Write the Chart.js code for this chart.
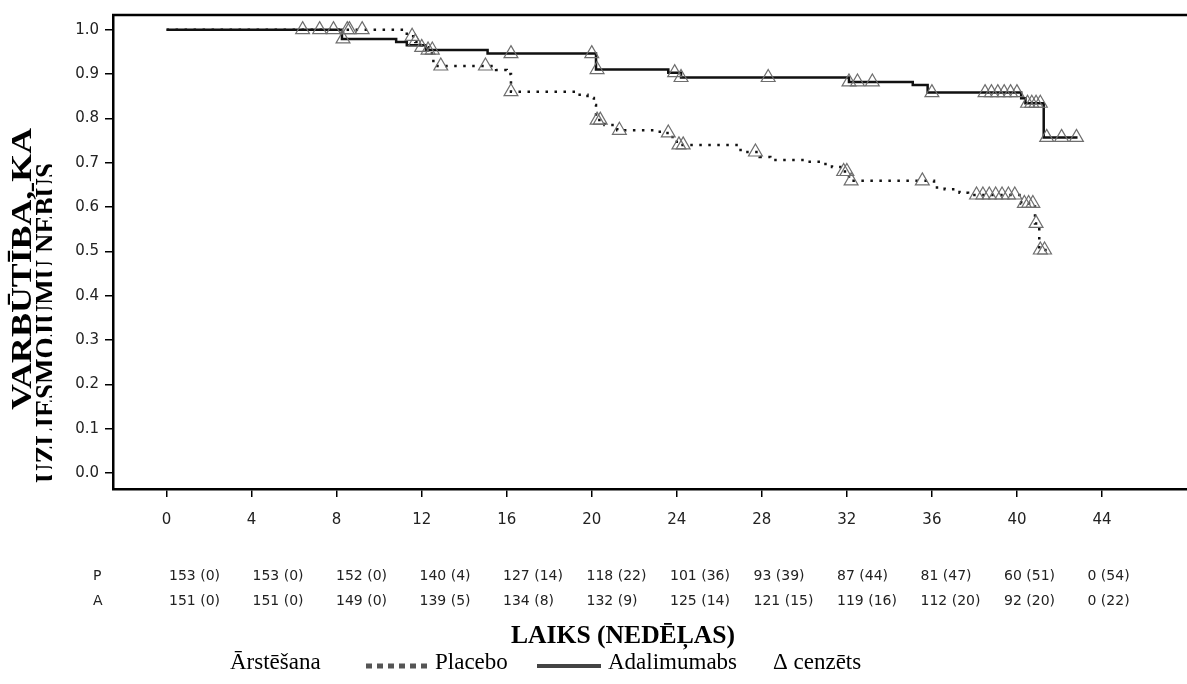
<!DOCTYPE html>
<html>
<head>
<meta charset="utf-8">
<script src="https://cdn.jsdelivr.net/npm/chart.js@4.4.0/dist/chart.umd.min.js"></script>
<style>
  html, body { margin: 0; padding: 0; background: #fff; }
</style>
</head>
<body>
<canvas id="km" width="1187" height="684"></canvas>
<script>
// Kaplan-Meier steps (weeks, survival from that week on)
const placeboTimes = [0, 11.3, 11.7, 12.0, 12.3, 12.55, 15.5, 16.0, 16.2, 19.3, 19.8, 20.1, 20.2, 20.6, 21.2, 23.2, 23.8, 24.0, 27.0, 27.9, 28.4, 30.0, 30.8, 31.3, 31.8, 32.1, 36.1, 36.6, 37.3, 37.7, 40.2, 40.85, 41.05];
const placeboSurv  = [1.0, 0.985, 0.972, 0.96, 0.946, 0.918, 0.909, 0.90, 0.86, 0.853, 0.846, 0.83, 0.796, 0.785, 0.773, 0.767, 0.755, 0.740, 0.724, 0.713, 0.706, 0.702, 0.697, 0.69, 0.68, 0.659, 0.644, 0.64, 0.632, 0.627, 0.608, 0.563, 0.503];
const placeboEnd = 41.4;

const adaTimes = [0, 8.25, 10.8, 11.3, 12.2, 15.1, 20.2, 23.6, 24.2, 32.1, 35.1, 35.8, 40.2, 40.4, 41.26];
const adaSurv  = [1.0, 0.979, 0.972, 0.965, 0.954, 0.946, 0.910, 0.903, 0.892, 0.882, 0.875, 0.858, 0.845, 0.834, 0.757];
const adaEnd = 42.85;

// censored times
const placeboCensor = [7.2, 8.5, 8.6, 9.2, 11.55, 11.7, 12.0, 12.9, 15.0, 16.2, 20.25, 20.4, 21.3, 23.6, 24.1, 24.3, 27.7, 31.85, 32.0, 32.2, 35.55, 38.1, 38.4, 38.7, 39.0, 39.3, 39.6, 39.9, 40.35, 40.55, 40.75, 40.9, 41.1, 41.3];
const adaCensor = [6.4, 7.85, 8.3, 12.3, 12.5, 16.2, 20.0, 20.25, 23.9, 24.2, 28.3, 32.1, 32.5, 33.2, 36.0, 38.5, 38.8, 39.1, 39.4, 39.7, 40.0, 40.5, 40.7, 40.9, 41.1, 41.4, 42.1, 42.8];

const xTicks = [0, 4, 8, 12, 16, 20, 24, 28, 32, 36, 40, 44];
const yTicks = [0, 0.1, 0.2, 0.3, 0.4, 0.5, 0.6, 0.7, 0.8, 0.9, 1.0];

// numbers at risk (events)
const riskPlacebo = ['153 (0)', '153 (0)', '152 (0)', '140 (4)', '127 (14)', '118 (22)', '101 (36)', '93 (39)', '87 (44)', '81 (47)', '60 (51)', '0 (54)'];
const riskAda = ['151 (0)', '151 (0)', '149 (0)', '139 (5)', '134 (8)', '132 (9)', '125 (14)', '121 (15)', '119 (16)', '112 (20)', '92 (20)', '0 (22)'];

function survAt(times, surv, t) {
    let v = surv[0];
    for (let i = 0; i < times.length; i++) {
        if (times[i] <= t) v = surv[i];
    }
    return v;
}
function kmPoints(times, surv, end) {
    let pts = times.map((t, i) => ({ x: t, y: surv[i] }));
    pts.push({ x: end, y: surv[surv.length - 1] });
    return pts;
}
function censorPoints(cens, times, surv) {
    return cens.map(t => ({ x: t, y: survAt(times, surv, t) }));
}

const serif = '"Liberation Serif", "Times New Roman", serif';

// text squeezed/stretched to a target width
function fitText(c, text, x, y, font, width, rot) {
    c.save();
    c.font = font;
    let w = c.measureText(text).width;
    c.translate(x, y);
    if (rot) c.rotate(rot);
    c.scale(width / w, 1);
    c.textAlign = 'center';
    c.textBaseline = 'middle';
    c.fillText(text, 0, 0);
    c.restore();
}

const decor = {
    id: 'decor',
    afterDraw(chart) {
        const c = chart.ctx, a = chart.chartArea;
        c.save();
        // top frame line
        c.strokeStyle = '#000';
        c.lineWidth = 2.5;
        c.beginPath();
        c.moveTo(a.left - 1, a.top);
        c.lineTo(chart.width, a.top);
        c.stroke();

        c.fillStyle = '#000';
        // y axis title
        fitText(c, 'VARBŪTĪBA, KA', 23, 269, 'bold 30px ' + serif, 282, -Math.PI / 2);
        c.save();
        c.beginPath();
        c.rect(0, 0, 52, 684);
        c.clip();
        fitText(c, 'UZLIESMOJUMU NEBŪS', 47, 323, 'bold 30px ' + serif, 320, -Math.PI / 2);
        c.restore();

        // risk table
        c.font = '14px "DejaVu Sans"';
        c.fillStyle = '#222';
        c.textAlign = 'left';
        c.textBaseline = 'middle';
        c.fillText('P', 93, 576);
        c.fillText('A', 93, 601);
        riskPlacebo.forEach((s, i) => c.fillText(s, 169 + i * 83.5, 576));
        riskAda.forEach((s, i) => c.fillText(s, 169 + i * 83.5, 601));

        // x axis title
        c.fillStyle = '#000';
        fitText(c, 'LAIKS (NEDĒĻAS)', 623, 636, 'bold 26px ' + serif, 224, 0);

        // legend
        c.font = '23px ' + serif;
        c.textAlign = 'left';
        c.textBaseline = 'middle';
        c.fillText('Ārstēšana', 230, 663);
        c.fillText('Placebo', 435, 663);
        c.fillText('Adalimumabs', 608, 663);
        c.fillText('Δ cenzēts', 773, 663);
        c.strokeStyle = '#555';
        c.lineWidth = 5;
        c.setLineDash([6, 5]);
        c.beginPath();
        c.moveTo(366, 666);
        c.lineTo(430, 666);
        c.stroke();
        c.setLineDash([]);
        c.strokeStyle = '#444';
        c.lineWidth = 4;
        c.beginPath();
        c.moveTo(537, 666);
        c.lineTo(601, 666);
        c.stroke();
        c.restore();
    }
};

const ctx = document.getElementById('km').getContext('2d');
const chart = new Chart(ctx, {
    type: 'scatter',
    data: {
        datasets: [
            {
                label: 'cenzēts P',
                data: censorPoints(placeboCensor, placeboTimes, placeboSurv),
                showLine: false,
                pointStyle: 'triangle',
                pointRadius: 8,
                pointBorderWidth: 1.2,
                pointBorderColor: '#6e6e6e',
                pointBackgroundColor: 'rgba(255,255,255,0)'
            },
            {
                label: 'cenzēts A',
                data: censorPoints(adaCensor, adaTimes, adaSurv),
                showLine: false,
                pointStyle: 'triangle',
                pointRadius: 8,
                pointBorderWidth: 1.2,
                pointBorderColor: '#6e6e6e',
                pointBackgroundColor: 'rgba(255,255,255,0)'
            },
            {
                label: 'Adalimumabs',
                data: kmPoints(adaTimes, adaSurv, adaEnd),
                showLine: true,
                stepped: 'before',
                borderColor: '#111',
                borderWidth: 2.5,
                pointRadius: 0
            },
            {
                label: 'Placebo',
                data: kmPoints(placeboTimes, placeboSurv, placeboEnd),
                showLine: true,
                stepped: 'before',
                borderColor: '#111',
                borderWidth: 2.5,
                borderDash: [2.5, 6.5],
                pointRadius: 0
            }
        ]
    },
    options: {
        responsive: false,
        animation: false,
        layout: { autoPadding: false, padding: { top: 15, right: 0, left: 0, bottom: 0 } },
        plugins: { legend: { display: false }, tooltip: { enabled: false }, title: { display: false } },
        scales: {
            x: {
                type: 'linear',
                min: -2.52,
                max: 48,
                afterBuildTicks: axis => { axis.ticks = xTicks.map(v => ({ value: v })); },
                afterFit: axis => { axis.height = 195; axis.paddingRight = 0; axis.paddingLeft = 0; },
                grid: { drawOnChartArea: false, drawTicks: true, tickLength: 8, color: '#000', lineWidth: 1.5 },
                border: { color: '#000', width: 2.5 },
                ticks: { font: { family: 'DejaVu Sans', size: 15 }, color: '#222', padding: 14, maxRotation: 0, autoSkip: false }
            },
            y: {
                min: -0.036,
                max: 1.033,
                afterBuildTicks: axis => { axis.ticks = yTicks.map(v => ({ value: v })); },
                afterFit: axis => { axis.width = 113; axis.paddingTop = 0; axis.paddingBottom = 0; },
                grid: { drawOnChartArea: false, drawTicks: true, tickLength: 8, color: '#000', lineWidth: 1.5 },
                border: { color: '#000', width: 2.5 },
                ticks: { font: { family: 'DejaVu Sans', size: 15 }, color: '#222', padding: 6, callback: v => v.toFixed(1) }
            }
        }
    },
    plugins: [decor]
});
</script>
</body>
</html>
